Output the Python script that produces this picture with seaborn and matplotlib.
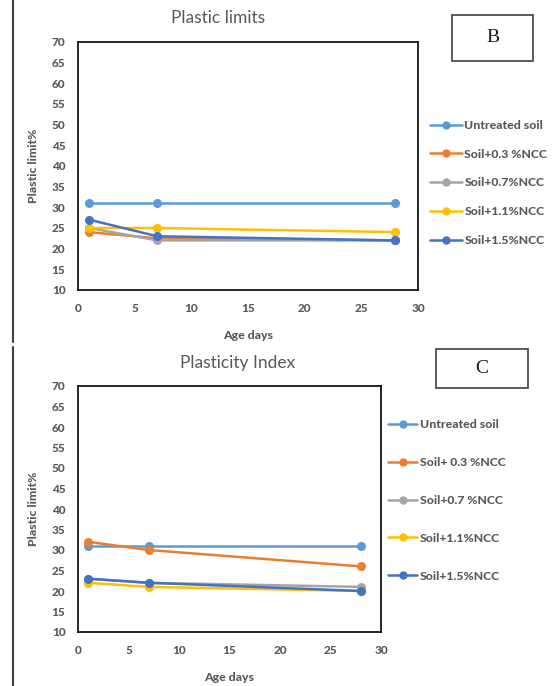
import matplotlib
matplotlib.use("Agg")
import matplotlib.pyplot as plt
import seaborn as sns
import pandas as pd
from matplotlib.lines import Line2D
from matplotlib.patches import Rectangle

# ---- data ----
age_days = [1, 7, 28]

pl_labels = ["Untreated soil", "Soil+0.3 %NCC", "Soil+0.7%NCC", "Soil+1.1%NCC", "Soil+1.5%NCC"]
pl_untreated = [31, 31, 31]
pl_03 = [24, 22.5, 22]
pl_07 = [25, 22, 22]
pl_11 = [25, 25, 24]
pl_15 = [27, 23, 22]

pi_labels = ["Untreated soil", "Soil+ 0.3 %NCC", "Soil+0.7 %NCC", "Soil+1.1%NCC", "Soil+1.5%NCC"]
pi_untreated = [31, 31, 31]
pi_03 = [32, 30, 26]
pi_07 = [23, 22, 21]
pi_11 = [22, 21, 20]
pi_15 = [23, 22, 20]

colors = ["#5B9BD5", "#ED7D31", "#A5A5A5", "#FFC000", "#4472C4"]

sns.set_theme(style="white")
plt.rcParams["font.family"] = ["Lato", "DejaVu Sans"]

W, H = 553, 686
fig = plt.figure(figsize=(W / 100, H / 100), dpi=100)

def fx(px):
    return px / W

def fy(py):
    return 1 - py / H

def make_df(labels, series):
    rows = []
    for lab, vals in zip(labels, series):
        for a, v in zip(age_days, vals):
            rows.append({"Age": a, "Value": v, "Series": lab})
    return pd.DataFrame(rows)

tick_color = "#595959"
BW = 900

def draw(ax_rect, labels, series, title, title_xy, legend_xy, spacing, handle_len):
    ax = fig.add_axes(ax_rect)
    df = make_df(labels, series)
    sns.lineplot(data=df, x="Age", y="Value", hue="Series", hue_order=labels,
                 palette=colors, marker="o", markersize=6.5, markeredgewidth=0,
                 linewidth=1.8, ax=ax, legend=False)
    ax.set_xlim(0, 30)
    ax.set_ylim(10, 70)
    ax.set_xticks(range(0, 31, 5))
    ax.set_yticks(range(10, 71, 5))
    ax.tick_params(axis="both", length=0, labelsize=8.5, labelcolor=tick_color, pad=9)
    for lab in ax.get_xticklabels() + ax.get_yticklabels():
        lab.set_fontweight(BW)
    for s in ax.spines.values():
        s.set_color("#000000")
        s.set_linewidth(1.2)
    ax.set_xlabel("Age days", fontsize=8.8, fontweight=BW, color=tick_color, labelpad=12)
    ax.set_ylabel("Plastic limit%", fontsize=8.8, fontweight=BW, color=tick_color, labelpad=9)
    fig.text(fx(title_xy[0]), fy(title_xy[1]), title, fontsize=12.5, color=tick_color,
             ha="center", va="center")
    handles = [Line2D([0], [0], color=c, lw=1.8, marker="o", markersize=6,
                      markeredgewidth=0) for c in colors]
    fig.legend(handles, labels, loc="upper left",
               bbox_to_anchor=(fx(legend_xy[0]), fy(legend_xy[1])),
               frameon=False, labelspacing=spacing, handlelength=handle_len,
               handletextpad=0.2, borderaxespad=0, borderpad=0,
               labelcolor=tick_color, prop={"weight": BW, "size": 8.8})
    return ax

# top panel
draw([fx(78), fy(290), fx(418) - fx(78), fy(42) - fy(290)],
     pl_labels, [pl_untreated, pl_03, pl_07, pl_11, pl_15],
     "Plastic limits", (218, 18), (430, 120), 1.45, 2.6)
# bottom panel
draw([fx(78), fy(632), fx(381) - fx(78), fy(386) - fy(632)],
     pi_labels, [pi_untreated, pi_03, pi_07, pi_11, pi_15],
     "Plasticity Index", (238, 363), (388, 419), 2.2, 2.4)

# label boxes
for (x0, y0, x1, y1, t) in [(452, 15, 533, 61, "B"), (436, 349, 528, 388, "C")]:
    fig.add_artist(Rectangle((fx(x0), fy(y1)), fx(x1) - fx(x0), fy(y0) - fy(y1),
                             transform=fig.transFigure, fill=False,
                             edgecolor="#404040", linewidth=1.2))
    fig.text(fx((x0 + x1) / 2), fy((y0 + y1) / 2), t, fontsize=14,
             family=["Liberation Serif", "DejaVu Serif"], color="#1a1a1a",
             ha="center", va="center")

# left edge vertical rules
fig.add_artist(Line2D([fx(13), fx(13)], [fy(0), fy(342)], transform=fig.transFigure,
                      color="#404040", lw=1.5))
fig.add_artist(Line2D([fx(13), fx(13)], [fy(347), fy(686)], transform=fig.transFigure,
                      color="#404040", lw=1.5))

fig.savefig("out.png", dpi=100)
